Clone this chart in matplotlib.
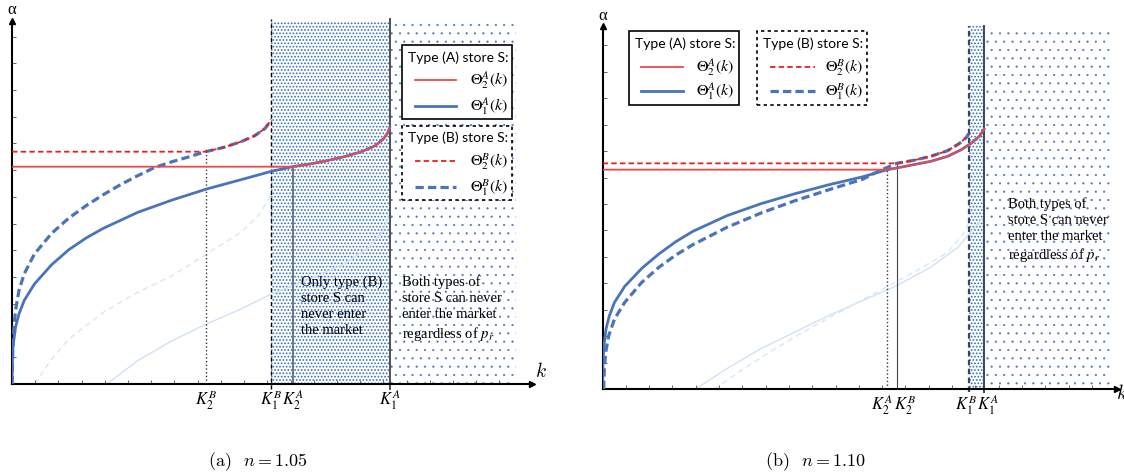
import numpy as np
import matplotlib.pyplot as plt
from matplotlib.patches import Rectangle
from matplotlib.lines import Line2D

W, H = 1124, 477
plt.rcParams['hatch.linewidth'] = 0.8

# ---------------- panel (a): n = 1.05 ----------------
a_K2B, a_K1B, a_K2A, a_K1A = 5.62, 7.53, 8.15, 10.97
a_lev2A = 6.52   # flat part of Theta_2^A
a_lev2B = 6.97   # flat part of Theta_2^B

a_lowA_k = [0, 0.01, 0.03, 0.10, 0.20, 0.35, 0.65, 1.15, 1.65, 2.15, 2.65, 3.65, 4.65, 5.65, 6.65, 7.53, 8.15]
a_lowA = [0, 0.65, 1.15, 1.70, 2.10, 2.50, 3.00, 3.58, 4.03, 4.38, 4.67, 5.15, 5.52, 5.85, 6.13, 6.38, 6.52]
a_upA_k = [8.15, 8.65, 9.15, 9.65, 10.15, 10.55, 10.80, 10.92, 10.97]
a_upA = [6.52, 6.60, 6.70, 6.82, 6.97, 7.15, 7.37, 7.55, 7.70]
a_lowB_k = [0, 0.02, 0.05, 0.10, 0.20, 0.35, 0.65, 1.15, 1.65, 2.15, 2.65, 3.15, 3.65, 4.15, 4.65, 5.15, 5.62]
a_lowB = [0, 1.00, 1.65, 2.20, 2.80, 3.30, 3.90, 4.52, 4.98, 5.35, 5.68, 5.98, 6.25, 6.50, 6.67, 6.82, 6.97]
a_upB_k = [5.62, 6.15, 6.65, 7.05, 7.35, 7.53]
a_upB = [6.97, 7.10, 7.27, 7.45, 7.67, 7.93]
a_f1_k = [2.75, 3.65, 4.65, 5.65, 6.65, 7.53, 8.65, 9.65, 10.35, 10.75, 10.97]
a_f1 = [0, 0.70, 1.30, 1.80, 2.25, 2.70, 3.15, 3.60, 4.10, 4.55, 5.15]
a_f2_k = [0.65, 1.15, 1.65, 2.65, 3.65, 4.65, 5.65, 6.65, 7.15, 7.40, 7.53]
a_f2 = [0, 0.75, 1.35, 2.15, 2.75, 3.25, 3.90, 4.55, 5.05, 5.45, 5.70]

# ---------------- panel (b): n = 1.10 ----------------
b_K2A, b_K2B, b_K1B, b_K1A = 8.36, 8.63, 10.76, 11.20
b_lev2A = 6.58
b_lev2B = 6.77

b_lowA_k = [0, 0.01, 0.04, 0.10, 0.20, 0.35, 0.65, 1.15, 1.65, 2.15, 2.65, 3.65, 4.65, 5.65, 6.65, 7.65, 8.36]
b_lowA = [0, 0.80, 1.30, 1.80, 2.20, 2.60, 3.08, 3.62, 4.05, 4.42, 4.73, 5.20, 5.56, 5.86, 6.13, 6.37, 6.58]
b_upA_k = [8.36, 8.63, 9.13, 9.63, 10.13, 10.53, 10.83, 11.08, 11.20]
b_upA = [6.58, 6.63, 6.73, 6.83, 6.98, 7.18, 7.38, 7.60, 7.80]
b_lowB_k = [0.03, 0.05, 0.09, 0.18, 0.35, 0.65, 1.15, 1.65, 2.15, 2.65, 3.65, 4.65, 5.65, 6.65, 7.65, 8.13, 8.43, 8.63]
b_lowB = [0, 0.60, 1.10, 1.60, 2.10, 2.60, 3.20, 3.65, 4.02, 4.33, 4.85, 5.28, 5.65, 5.98, 6.30, 6.55, 6.68, 6.77]
b_upB_k = [8.63, 9.13, 9.63, 10.13, 10.48, 10.68, 10.76]
b_upB = [6.77, 6.86, 6.98, 7.15, 7.37, 7.55, 7.67]
b_f1_k = [2.73, 3.63, 4.63, 5.63, 6.63, 7.63, 8.63, 9.63, 10.43, 10.76, 11.13]
b_f1 = [0, 0.60, 1.20, 1.70, 2.20, 2.65, 3.10, 3.65, 4.25, 4.65, 5.10]
b_f2_k = [3.28, 4.13, 5.13, 6.13, 7.13, 8.13, 9.13, 10.13, 10.58, 10.76]
b_f2 = [0, 0.60, 1.25, 1.85, 2.40, 2.95, 3.50, 4.10, 4.65, 5.00]

# styles
RED_S = dict(color='#ee4848', lw=1.3)
BLUE_S = dict(color='#4a74ba', lw=2.0)
RED_D = dict(color='#e82020', lw=1.3, dashes=(3, 1.8))
BLUE_D = dict(color='#4a74ba', lw=2.3, dashes=(2.6, 1.3))
FAINT_S = dict(color='#cfe2f6', lw=1.0)
FAINT_D = dict(color='#d6e7f8', lw=1.0, dashes=(4, 3))
DOT_C = '#2f6bc0'

fig = plt.figure(figsize=(W / 100, H / 100), dpi=100)


def fx(x):
    return x / W


def fy(y):
    return 1 - y / H


def setup_axes(ax, xstep, ystep, ticks, labels, shifts):
    ax.set_xlim(0, 15.3)
    ax.set_ylim(0, 11.3)
    for s in ['top', 'right']:
        ax.spines[s].set_visible(False)
    ax.spines['bottom'].set_bounds(0, 15.1)
    ax.spines['left'].set_bounds(0, 10.9)
    ax.spines['bottom'].set_linewidth(1.5)
    ax.spines['left'].set_linewidth(1.5)
    ax.plot(15.1, 0, marker='>', ms=5, color='k', clip_on=False)
    ax.plot(0, 10.9, marker='^', ms=5, color='k', clip_on=False)
    ax.set_xticks(np.arange(1, 22) * xstep, minor=True)
    ax.set_yticks(np.arange(1, 14) * ystep, minor=True)
    ax.set_yticks([])
    ax.set_xticks([])
    ax.tick_params(which='minor', direction='in', length=3, width=0.7, color='#666666')
    ax.set_facecolor('none')
    # K labels under the axis, nudged apart where they crowd
    for t, lab, dx in zip(ticks, labels, shifts):
        ax.annotate(lab, xy=(t, 0), xytext=(dx, -15), textcoords='offset pixels',
                    ha='center', va='center', fontsize=12, math_fontfamily='stix',
                    annotation_clip=False)


def curves(ax, lev2A, lev2B, K2A, K2B, lowA_k, lowA, upA_k, upA, lowB_k, lowB, upB_k, upB, f1k, f1, f2k, f2):
    ax.plot(f1k, f1, **FAINT_S, zorder=1)
    ax.plot(f2k, f2, **FAINT_D, zorder=1)
    ax.plot(lowA_k + upA_k, lowA + upA, **BLUE_S, zorder=3)
    ax.plot(lowB_k + upB_k, lowB + upB, **BLUE_D, zorder=3)
    ax.plot([0, K2A] + upA_k, [lev2A, lev2A] + upA, **RED_S, zorder=4)
    ax.plot([0, K2B] + upB_k, [lev2B, lev2B] + upB, **RED_D, zorder=4)


def shade(ax, x0, x1, x2):
    dense = ax.fill_between([x0, x1], 0, 10.9, facecolor='none', edgecolor=DOT_C,
                            hatch='.....', linewidth=0, zorder=0)
    sparse = ax.fill_between([x1, x2], 0, 10.9, facecolor='none', edgecolor='#3a74c8',
                             hatch='..', linewidth=0, zorder=0)
    if hasattr(sparse, 'set_hatch_linewidth'):
        sparse.set_hatch_linewidth(0.3)
        dense.set_hatch_linewidth(0.8)


def key(box, title_xy, rows_y, hx, lx, border_ls, title, entries):
    x0, y0, x1, y1 = box
    fig.add_artist(Rectangle((fx(x0), fy(y1)), fx(x1) - fx(x0), fy(y0) - fy(y1),
                             transform=fig.transFigure, fc='white', ec='black',
                             lw=1.2, ls=border_ls, zorder=5))
    fig.text(fx(title_xy[0]), fy(title_xy[1]), title, family='Lato', fontsize=10,
             va='center', ha='left', zorder=6)
    for y, (lab, style) in zip(rows_y, entries):
        fig.add_artist(Line2D([fx(hx[0]), fx(hx[1])], [fy(y), fy(y)],
                              transform=fig.transFigure, zorder=6, **style))
        fig.text(fx(lx), fy(y), lab, fontsize=11.5, math_fontfamily='stix',
                 va='center', ha='left', zorder=6)


keyA = [(r'$\Theta_2^A(k)$', RED_S), (r'$\Theta_1^A(k)$', BLUE_S)]
keyB = [(r'$\Theta_2^B(k)$', RED_D), (r'$\Theta_1^B(k)$', BLUE_D)]
serif = 'Liberation Serif'
both_txt = 'Both types of\nstore S can never\nenter the market\nregardless of $p_r$'
txt_kw = dict(family=serif, fontsize=10.5, va='top', ha='left', linespacing=1.28,
              math_fontfamily='stix')

# ---------------- left panel ----------------
axA = fig.add_axes([fx(12.05), 1 - 385 / H, 15.3 * 34.43 / W, 11.3 * 33.33 / H])
setup_axes(axA, 0.674, 0.802, [a_K2B, a_K1B, a_K2A, a_K1A],
           [r'$K_2^B$', r'$K_1^B$', r'$K_2^A$', r'$K_1^A$'], [0, 0, 0, 0])
shade(axA, a_K1B, a_K1A, 14.65)
curves(axA, a_lev2A, a_lev2B, a_K2A, a_K2B, a_lowA_k, a_lowA, a_upA_k, a_upA,
       a_lowB_k, a_lowB, a_upB_k, a_upB, a_f1_k, a_f1, a_f2_k, a_f2)
axA.plot([a_K2B, a_K2B], [0, a_lev2B], color='#333333', lw=1.0, ls=':', zorder=2)
axA.plot([a_K2A, a_K2A], [0, a_lev2A], color='#5a6478', lw=1.2, zorder=2)
axA.plot([a_K1B, a_K1B], [-0.15, 10.95], color='black', lw=1.0, dashes=(3, 2), zorder=2, clip_on=False)
axA.plot([a_K1A, a_K1A], [-0.15, 10.95], color='#505050', lw=1.4, zorder=2, clip_on=False)
axA.text(8.40, 3.28, 'Only type (B)\nstore S can\nnever enter\nthe market', **txt_kw)
axA.text(11.33, 3.28, both_txt, **txt_kw)
axA.text(0, 11.25, 'α', family=serif, fontsize=12, ha='center', va='center', clip_on=False)
axA.text(15.35, 0.42, '$k$', math_fontfamily='cm', fontsize=14, ha='center', va='center', clip_on=False)

key((402, 46, 512, 120), (408, 58), (81, 107), (415, 456), 470, '-', 'Type (A) store S:', keyA)
key((402, 127, 512, 201), (408, 138), (162, 188), (415, 456), 470, (0, (2, 2)), 'Type (B) store S:', keyB)

# ---------------- right panel ----------------
axB = fig.add_axes([fx(602.6), 1 - 390 / H, 15.3 * 34.06 / W, 11.3 * 33.33 / H])
setup_axes(axB, 0.684, 0.793, [b_K2A, b_K2B, b_K1B, b_K1A],
           [r'$K_2^A$', r'$K_2^B$', r'$K_1^B$', r'$K_1^A$'], [-6, 8, -3, 4])
shade(axB, b_K1B, b_K1A, 14.93)
curves(axB, b_lev2A, b_lev2B, b_K2A, b_K2B, b_lowA_k, b_lowA, b_upA_k, b_upA,
       b_lowB_k, b_lowB, b_upB_k, b_upB, b_f1_k, b_f1, b_f2_k, b_f2)
axB.plot([b_K2A, b_K2A], [0, b_lev2A], color='#333333', lw=1.0, ls=':', zorder=2)
axB.plot([b_K2B, b_K2B], [0, b_lev2B], color='#444444', lw=0.8, zorder=2)
axB.plot([b_K1B, b_K1B], [-0.1, 10.9], color='#34466a', lw=1.6, dashes=(2.5, 1.5), zorder=2, clip_on=False)
axB.plot([b_K1A, b_K1A], [-0.1, 10.9], color='#3a4660', lw=1.4, zorder=2, clip_on=False)
axB.text(11.90, 5.78, both_txt, **txt_kw)
axB.text(0, 11.22, 'α', family=serif, fontsize=12, ha='center', va='center', clip_on=False)
axB.text(15.24, -0.1, '$k$', math_fontfamily='cm', fontsize=14, ha='center', va='center', clip_on=False)

key((629, 32, 739, 106), (635, 44), (68, 92), (641, 683), 696, '-', 'Type (A) store S:', keyA)
key((757, 32, 867, 106), (763, 44), (68, 92), (770, 815), 825, (0, (2, 2)), 'Type (B) store S:', keyB)

# captions
fig.text(fx(258), fy(462), '(a)  $n = 1.05$', family='cmr10', math_fontfamily='cm',
         fontsize=13, ha='center', va='center')
fig.text(fx(815), fy(462), '(b)  $n = 1.10$', family='cmr10', math_fontfamily='cm',
         fontsize=13, ha='center', va='center')

fig.savefig('out.png', dpi=100)
